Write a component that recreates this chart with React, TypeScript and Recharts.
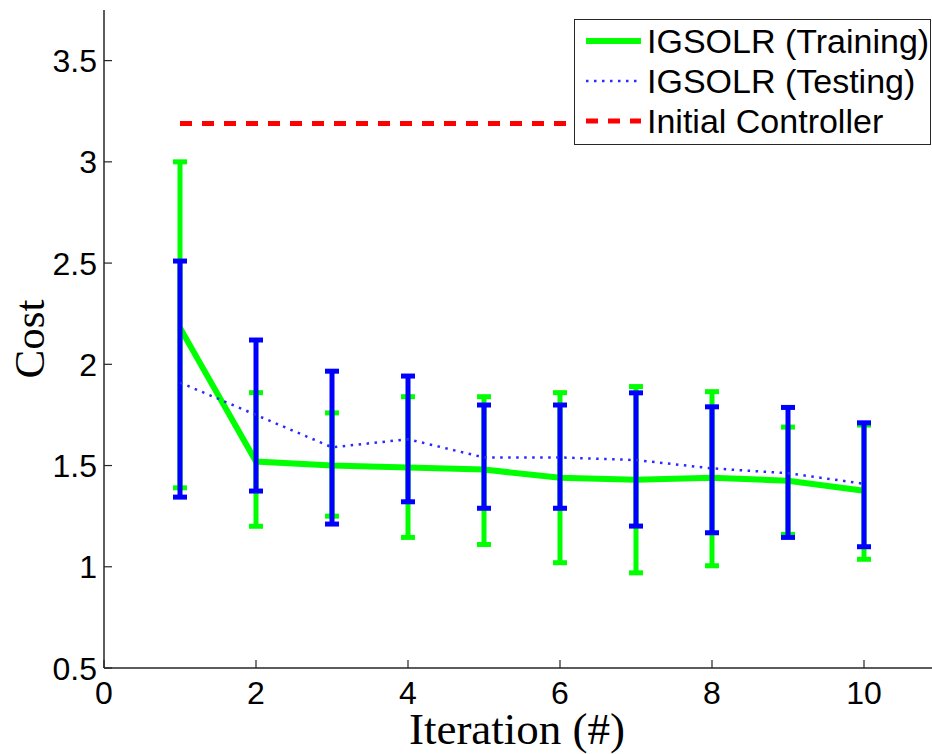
import { LineChart, Line, XAxis, YAxis, ErrorBar, Legend } from 'recharts';

const iterations = [1, 2, 3, 4, 5, 6, 7, 8, 9, 10];
const trainingMean = [2.18, 1.52, 1.5, 1.49, 1.48, 1.44, 1.43, 1.44, 1.425, 1.375];
const trainingLower = [1.39, 1.2, 1.25, 1.145, 1.11, 1.02, 0.97, 1.005, 1.16, 1.037];
const trainingUpper = [3.0, 1.86, 1.76, 1.84, 1.84, 1.86, 1.89, 1.865, 1.69, 1.7];
const testingMean = [1.91, 1.75, 1.59, 1.63, 1.54, 1.54, 1.527, 1.486, 1.462, 1.41];
const testingLower = [1.344, 1.374, 1.211, 1.321, 1.289, 1.289, 1.201, 1.168, 1.145, 1.099];
const testingUpper = [2.51, 2.12, 1.966, 1.942, 1.799, 1.799, 1.859, 1.79, 1.787, 1.711];
const initialCost = [3.19, 3.19, 3.19, 3.19, 3.19, 3.19, 3.19, 3.19, 3.19, 3.19];

const xTicks = [0, 2, 4, 6, 8, 10];
const yTicks = [0.5, 1, 1.5, 2, 2.5, 3, 3.5];

const data = iterations.map((it, i) => ({
  it,
  train: trainingMean[i],
  trainErr: [trainingMean[i] - trainingLower[i], trainingUpper[i] - trainingMean[i]],
  test: testingMean[i],
  testErr: [testingMean[i] - testingLower[i], testingUpper[i] - testingMean[i]],
  init: initialCost[i],
}));

const GREEN = '#00ff00';
const BLUE = '#0000ff';
const DOTTED = '#2a2aff';
const RED = '#ff0000';
const AXIS = '#262626';
const SANS = '"Liberation Sans", Arial, sans-serif';
const SERIF = '"Liberation Serif", "Times New Roman", serif';

const legendRows = [
  { name: 'IGSOLR (Training)', color: GREEN, width: 6, dash: undefined },
  { name: 'IGSOLR (Testing)', color: DOTTED, width: 2.5, dash: '2.5 5.5' },
  { name: 'Initial Controller', color: RED, width: 5, dash: '12 10' },
];

function makeTick(side: 'bottom' | 'top' | 'left' | 'right') {
  return function Tick(props: any) {
    const { x, y, payload } = props;
    if (side === 'bottom') {
      return (
        <g>
          <line x1={x} x2={x} y1={y} y2={y - 8} stroke={AXIS} strokeWidth={1.2} />
          <text x={x} y={y + 36} textAnchor="middle" fontSize={32} fontFamily={SANS} fill="#000">
            {payload.value}
          </text>
        </g>
      );
    }
    if (side === 'top') {
      return <line x1={x} x2={x} y1={y} y2={y + 8} stroke={AXIS} strokeWidth={1.2} />;
    }
    if (side === 'left') {
      return (
        <g>
          <line x1={x} x2={x + 8} y1={y} y2={y} stroke={AXIS} strokeWidth={1.2} />
          <text x={x - 7} y={y + 11.5} textAnchor="end" fontSize={32} fontFamily={SANS} fill="#000">
            {payload.value}
          </text>
        </g>
      );
    }
    return <line x1={x} x2={x - 8} y1={y} y2={y} stroke={AXIS} strokeWidth={1.2} />;
  };
}

function LegendBox() {
  return (
    <div
      style={{
        width: 357,
        height: 126,
        boxSizing: 'border-box',
        border: `1.5px solid ${AXIS}`,
        background: '#fff',
        paddingTop: 1,
        fontFamily: SANS,
        fontSize: 34,
        color: '#000',
      }}
    >
      {legendRows.map(row => (
        <div key={row.name} style={{ display: 'flex', alignItems: 'center', height: 40, lineHeight: '40px' }}>
          <svg width={55} height={12} style={{ marginLeft: 11, marginRight: 6 }}>
            <line x1={0} x2={55} y1={6} y2={6} stroke={row.color} strokeWidth={row.width} strokeDasharray={row.dash} />
          </svg>
          <span style={{ whiteSpace: 'nowrap' }}>{row.name}</span>
        </div>
      ))}
    </div>
  );
}

export default function App() {
  return (
    <div style={{ position: 'absolute', left: 0, top: 0, width: 932, height: 754, overflow: 'hidden', background: '#fff' }}>
      <LineChart width={960} height={754} data={data} margin={{ top: 10, right: 20, left: 0, bottom: 0 }}>
        <XAxis
          dataKey="it"
          type="number"
          domain={[0, 11]}
          ticks={xTicks}
          allowDataOverflow
          height={86}
          tickSize={0}
          tickMargin={0}
          axisLine={{ stroke: AXIS, strokeWidth: 1.5 }}
          tick={makeTick('bottom')}
          interval={0}
          label={({ viewBox }: any) => (
            <text
              x={viewBox.x + viewBox.width / 2 - 5}
              y={744}
              textAnchor="middle"
              fontSize={45}
              fontFamily={SERIF}
              fill="#000"
            >
              Iteration (#)
            </text>
          )}
        />
        <XAxis
          xAxisId="top"
          orientation="top"
          dataKey="it"
          type="number"
          domain={[0, 11]}
          ticks={xTicks}
          allowDataOverflow
          height={0}
          tickSize={0}
          tickMargin={0}
          axisLine={{ stroke: AXIS, strokeWidth: 1.5 }}
          tick={makeTick('top')}
          interval={0}
        />
        <YAxis
          type="number"
          domain={[0.5, 3.75]}
          ticks={yTicks}
          allowDataOverflow
          width={104}
          tickSize={0}
          tickMargin={0}
          axisLine={{ stroke: AXIS, strokeWidth: 1.5 }}
          tick={makeTick('left')}
          interval={0}
          label={({ viewBox }: any) => {
            const cy = viewBox.y + viewBox.height / 2;
            return (
              <text
                x={44}
                y={cy}
                transform={`rotate(-90 44 ${cy})`}
                textAnchor="middle"
                fontSize={43}
                fontFamily={SERIF}
                fill="#000"
              >
                Cost
              </text>
            );
          }}
        />
        <YAxis
          yAxisId="right"
          orientation="right"
          type="number"
          domain={[0.5, 3.75]}
          ticks={yTicks}
          allowDataOverflow
          width={0}
          tickSize={0}
          tickMargin={0}
          axisLine={{ stroke: AXIS, strokeWidth: 1.5 }}
          tick={makeTick('right')}
          interval={0}
        />
        <Line
          dataKey="init"
          stroke={RED}
          strokeWidth={5}
          strokeDasharray="12 10"
          dot={false}
          isAnimationActive={false}
        />
        <Line dataKey="train" stroke={GREEN} strokeWidth={6} dot={false} isAnimationActive={false}>
          <ErrorBar dataKey="trainErr" direction="y" width={7} stroke={GREEN} strokeWidth={5} isAnimationActive={false} />
        </Line>
        <Line
          dataKey="test"
          stroke={DOTTED}
          strokeWidth={2.5}
          strokeDasharray="2.5 5.5"
          dot={false}
          isAnimationActive={false}
        >
          <ErrorBar dataKey="testErr" direction="y" width={7} stroke={BLUE} strokeWidth={5} isAnimationActive={false} />
        </Line>
        <Legend
          layout="horizontal"
          align="center"
          verticalAlign="middle"
          width={357}
          height={126}
          wrapperStyle={{ left: 574, top: 19, width: 357, height: 126 }}
          content={() => <LegendBox />}
        />
      </LineChart>
    </div>
  );
}
